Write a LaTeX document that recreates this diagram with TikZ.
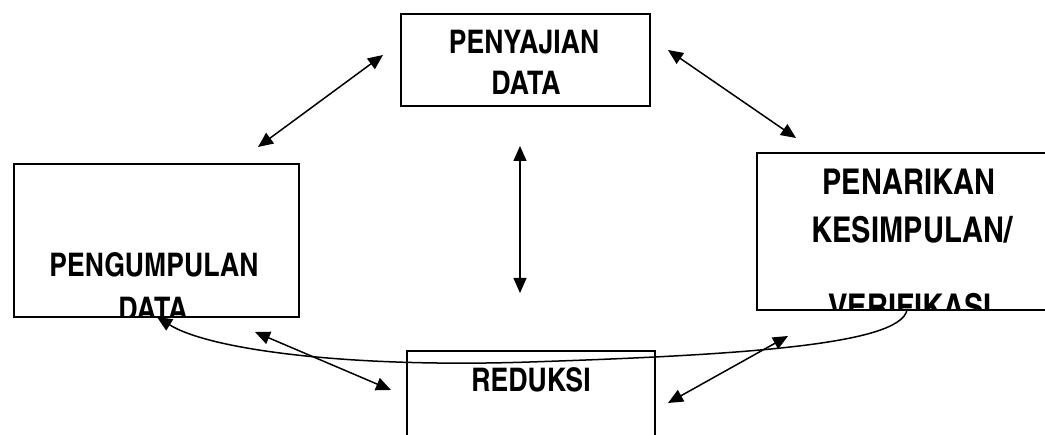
\documentclass[tikz,border=0pt]{standalone}
\usepackage{fontspec}
\setmainfont{TeX Gyre Heros Cn}
\usetikzlibrary{arrows.meta}
\tikzset{
  box/.style={draw=black, line width=1.6pt, rectangle, inner sep=0pt, anchor=north west},
  lbl/.style={anchor=base, inner sep=0pt, font=\fontsize{32.5}{38}\selectfont\bfseries},
  lblbig/.style={anchor=base, inner sep=0pt, font=\fontsize{35.5}{42}\selectfont\bfseries},
  link/.style={line width=1.5pt, {Triangle[length=15pt,width=13pt]}-{Triangle[length=15pt,width=13pt]}},
  curvelink/.style={line width=1.5pt, -{Triangle[length=15pt,width=13pt]}}
}
\begin{document}
\begin{tikzpicture}[x=1pt,y=-1pt]
\useasboundingbox (0,0) rectangle (1045,435);
% boxes
\node[box, minimum width=249pt, minimum height=92pt] (pd) at (400,13) {};
\node[box, minimum width=285pt, minimum height=153pt] (pg) at (13,163) {};
\node[box, minimum width=320pt, minimum height=157pt] (pk) at (756,152) {};
\node[box, minimum width=248pt, minimum height=120pt] (rd) at (406,350) {};
% labels
\node[lbl] (pdA) at (524,54) {PENYAJIAN};
\node[lbl] (pdB) at (526,95) {DATA};
\begin{scope}
  \clip (pg.south west) rectangle (pg.north east);
  \node[lbl] (pgA) at (154,277) {PENGUMPULAN};
  \node[lbl] (pgB) at (153,321) {DATA};
\end{scope}
\begin{scope}
  \clip (pk.south west) rectangle (pk.north east);
  \node[lblbig] (pkA) at (909,195) {PENARIKAN};
  \node[lblbig] (pkB) at (912,243) {KESIMPULAN/};
  \node[lblbig] (pkC) at (910,320) {VERIFIKASI};
\end{scope}
\node[lbl] (rdA) at (531,392) {REDUKSI};
% arrow end points
\coordinate (a1s) at (258,147); \coordinate (a1e) at (383,55);
\coordinate (a2s) at (668,50);  \coordinate (a2e) at (796,138);
\coordinate (a3s) at (520,146); \coordinate (a3e) at (520,293);
\coordinate (a4s) at (255,332); \coordinate (a4e) at (391,390);
\coordinate (a5s) at (668,403); \coordinate (a5e) at (788,336);
\coordinate (cs) at (907,310); \coordinate (cm) at (530,362); \coordinate (ce) at (157,317);
% connectors
\draw[link] (a1s) -- (a1e);
\draw[link] (a2s) -- (a2e);
\draw[link] (a3s) -- (a3e);
\draw[link] (a4s) -- (a4e);
\draw[link] (a5s) -- (a5e);
\draw[curvelink] (cs) .. controls (900,345) and (740,355) .. (cm)
  .. controls (350,368) and (210,350) .. (ce);
\end{tikzpicture}
\end{document}
